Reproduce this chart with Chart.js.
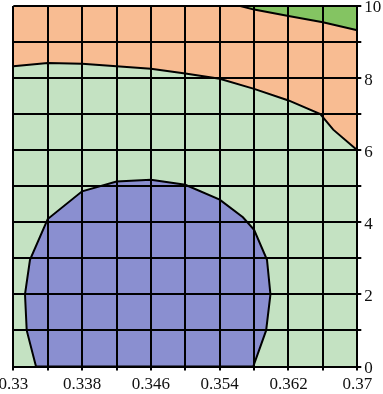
<!DOCTYPE html>
<html lang="en">
<head>
    <meta charset="UTF-8">
    <title>Contour Map</title>
    <script src="https://cdn.jsdelivr.net/npm/chart.js"></script>
    <style>
        body {
            margin: 0;
            background: white;
            overflow: hidden;
        }
        canvas {
            display: block;
        }
    </style>
</head>
<body>
    <canvas id="contourChart" width="383" height="394"></canvas>
    <script>
        // tick labels (every other grid line carries a label)
        const xTickLabels = ["0.33", "0.338", "0.346", "0.354", "0.362", "0.37"];
        const yTickLabels = ["0", "2", "4", "6", "8", "10"];

        // boundary between the light green zone and the orange zone
        const midBoundaryX = [0.330, 0.334, 0.338, 0.342, 0.346, 0.350, 0.354, 0.358, 0.362, 0.3657, 0.3672, 0.370];
        const midBoundaryY = [8.33, 8.42, 8.40, 8.33, 8.26, 8.13, 7.98, 7.70, 7.38, 7.00, 6.57, 6.00];

        // boundary of the dark green corner (top right)
        const topBoundaryX = [0.3564, 0.358, 0.362, 0.366, 0.370];
        const topBoundaryY = [10.0, 9.90, 9.72, 9.55, 9.33];

        // outline of the blue zone
        const blobX = [0.33264, 0.33156, 0.33136, 0.33194, 0.334, 0.338, 0.342, 0.346, 0.350, 0.354, 0.3567, 0.358, 0.3595, 0.3599, 0.3594, 0.3579, 0.33264];
        const blobY = [0.00, 1.00, 2.00, 2.96, 4.09, 4.86, 5.13, 5.18, 5.04, 4.63, 4.14, 3.79, 2.96, 2.00, 1.00, 0.00, 0.00];

        function toPoints(xs, ys) {
            return xs.map((x, i) => ({ x: x, y: ys[i] }));
        }

        const labelFont = { family: "'Liberation Serif', 'Times New Roman', serif", size: 17 };

        const ctx = document.getElementById("contourChart").getContext("2d");
        new Chart(ctx, {
            type: "scatter",
            data: {
                datasets: [
                    {
                        data: toPoints(blobX, blobY),
                        showLine: true,
                        fill: "shape",
                        backgroundColor: "#8a8fd0",
                        borderColor: "#000",
                        borderWidth: 2,
                        pointRadius: 0,
                        order: 0
                    },
                    {
                        data: toPoints(topBoundaryX, topBoundaryY),
                        showLine: true,
                        fill: "end",
                        backgroundColor: "#84c462",
                        borderColor: "#000",
                        borderWidth: 2,
                        pointRadius: 0,
                        order: 1
                    },
                    {
                        data: toPoints(midBoundaryX, midBoundaryY),
                        showLine: true,
                        fill: "end",
                        backgroundColor: "#f8bc92",
                        borderColor: "#000",
                        borderWidth: 2,
                        pointRadius: 0,
                        order: 2
                    },
                    {
                        data: toPoints(midBoundaryX, midBoundaryY),
                        showLine: true,
                        fill: "start",
                        backgroundColor: "#c4e2c2",
                        borderWidth: 0,
                        pointRadius: 0,
                        order: 3
                    }
                ]
            },
            options: {
                responsive: false,
                animation: false,
                devicePixelRatio: 1,
                layout: { padding: { left: 13.3, top: 6, right: 0, bottom: 0 } },
                plugins: {
                    legend: { display: false },
                    tooltip: { enabled: false }
                },
                scales: {
                    x: {
                        type: "linear",
                        min: 0.33,
                        max: 0.37,
                        grid: { color: "#000", lineWidth: 2, tickLength: 4, z: 1 },
                        border: { color: "#000", width: 2, z: 1 },
                        ticks: {
                            stepSize: 0.004,
                            maxRotation: 0,
                            autoSkip: false,
                            padding: 4,
                            color: "#111",
                            font: labelFont,
                            z: 1,
                            callback: (value, index) => index % 2 === 0 ? xTickLabels[index / 2] : ""
                        },
                        afterFit: (scale) => {
                            scale.height = 27.5;
                            scale.paddingLeft = 0;
                            scale.paddingRight = 0;
                        }
                    },
                    y: {
                        type: "linear",
                        position: "right",
                        min: 0,
                        max: 10,
                        grid: { color: "#000", lineWidth: 2, tickLength: 4, z: 1 },
                        border: { color: "#000", width: 2, z: 1 },
                        ticks: {
                            stepSize: 1,
                            autoSkip: false,
                            padding: 3,
                            labelOffset: 2,
                            color: "#111",
                            font: labelFont,
                            z: 1,
                            callback: (value, index) => index % 2 === 0 ? yTickLabels[index / 2] : ""
                        },
                        afterFit: (scale) => {
                            scale.width = 25.7;
                            scale.paddingTop = 0;
                            scale.paddingBottom = 0;
                        }
                    }
                }
            }
        });
    </script>
</body>
</html>
